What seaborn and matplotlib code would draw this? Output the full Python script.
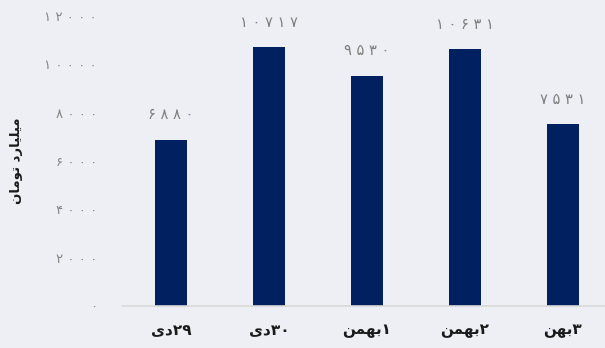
import matplotlib
matplotlib.use("Agg")
import matplotlib.pyplot as plt
import seaborn as sns
import pandas as pd

# ---- data ----
categories = ["۲۹دی", "۳۰دی", "۱بهمن", "۲بهمن", "۳بهن"]
values = [6880, 10717, 9530, 10631, 7531]
y_ticks = [0, 2000, 4000, 6000, 8000, 10000, 12000]
y_label = "میلیارد تومان"

# ---- minimal Arabic-script shaping (matplotlib has no shaping / bidi) ----
FORMS = {  # isolated, final, initial, medial
    "\u0627": ("\uFE8D", "\uFE8E", None, None),
    "\u0628": ("\uFE8F", "\uFE90", "\uFE91", "\uFE92"),
    "\u062A": ("\uFE95", "\uFE96", "\uFE97", "\uFE98"),
    "\u062F": ("\uFEA9", "\uFEAA", None, None),
    "\u0631": ("\uFEAD", "\uFEAE", None, None),
    "\u0644": ("\uFEDD", "\uFEDE", "\uFEDF", "\uFEE0"),
    "\u0645": ("\uFEE1", "\uFEE2", "\uFEE3", "\uFEE4"),
    "\u0646": ("\uFEE5", "\uFEE6", "\uFEE7", "\uFEE8"),
    "\u0647": ("\uFEE9", "\uFEEA", "\uFEEB", "\uFEEC"),
    "\u0648": ("\uFEED", "\uFEEE", None, None),
    "\u06CC": ("\uFEEF", "\uFEF0", "\uFEF3", "\uFEF4"),
}


def dual(c):
    return c in FORMS and FORMS[c][2] is not None


def shape(s):
    out = []
    for i, c in enumerate(s):
        if c not in FORMS:
            out.append(c)
            continue
        prev = s[i - 1] if i > 0 else ""
        nxt = s[i + 1] if i + 1 < len(s) else ""
        jp = dual(prev)
        jn = dual(c) and nxt in FORMS
        iso, fin, ini, med = FORMS[c]
        if jp and jn:
            out.append(med)
        elif jp:
            out.append(fin)
        elif jn:
            out.append(ini)
        else:
            out.append(iso)
    return "".join(out)


def is_digit(c):
    return "\u06F0" <= c <= "\u06F9" or c.isdigit()


def visual(s):
    s = shape(s)
    runs = []
    for c in s:
        d = is_digit(c)
        if runs and runs[-1][0] == d:
            runs[-1][1].append(c)
        else:
            runs.append((d, [c]))
    parts = []
    for d, chars in reversed(runs):
        parts.append("".join(chars) if d else "".join(reversed(chars)))
    return "".join(parts)


def fa_num(n):
    return " ".join(chr(0x06F0 + int(ch)) for ch in str(n))


BG = "#EEEFF4"
NAVY = "#002060"

df = pd.DataFrame({"cat": [visual(c) for c in categories], "val": values})

fig = plt.figure(figsize=(6.05, 3.48), dpi=100, facecolor=BG)
ax = fig.add_axes([122 / 605, 1 - 306 / 348, 1 - 122 / 605, (306 - 16) / 348])
ax.set_facecolor(BG)

sns.barplot(data=df, x="cat", y="val", color=NAVY, saturation=1, width=0.32, ax=ax)

ax.set_xlim(-0.5, (605 - 171) / 98)
ax.set_ylim(0, 12000)
for sp in ["top", "right", "left"]:
    ax.spines[sp].set_visible(False)
ax.spines["bottom"].set_color("#D9D9D9")
ax.spines["bottom"].set_linewidth(1.2)
ax.grid(False)

ax.set_yticks(y_ticks)
ax.set_yticklabels([fa_num(t) for t in y_ticks], color="#858585", fontsize=9.5,
                   family="DejaVu Sans")
ax.tick_params(axis="y", length=0, pad=18)
ax.tick_params(axis="x", length=0, pad=12)
for lbl in ax.get_xticklabels():
    lbl.set_fontsize(11)
    lbl.set_fontweight("bold")
    lbl.set_color("#1a1a1a")
    lbl.set_family("DejaVu Sans")

ax.set_xlabel("")
ax.set_ylabel(visual(y_label), fontsize=9.5, fontweight="bold", color="#1a1a1a",
              family="DejaVu Sans")
ax.yaxis.set_label_coords(-(122 - 23) / 483, 0.5)

for i, v in enumerate(values):
    ax.annotate(fa_num(v), (i, v), xytext=(0, 18), textcoords="offset points",
                ha="center", va="center", color="#7f7f7f", fontsize=10.5,
                family="DejaVu Sans", annotation_clip=False)

fig.savefig("out.png", dpi=100, facecolor=BG)
